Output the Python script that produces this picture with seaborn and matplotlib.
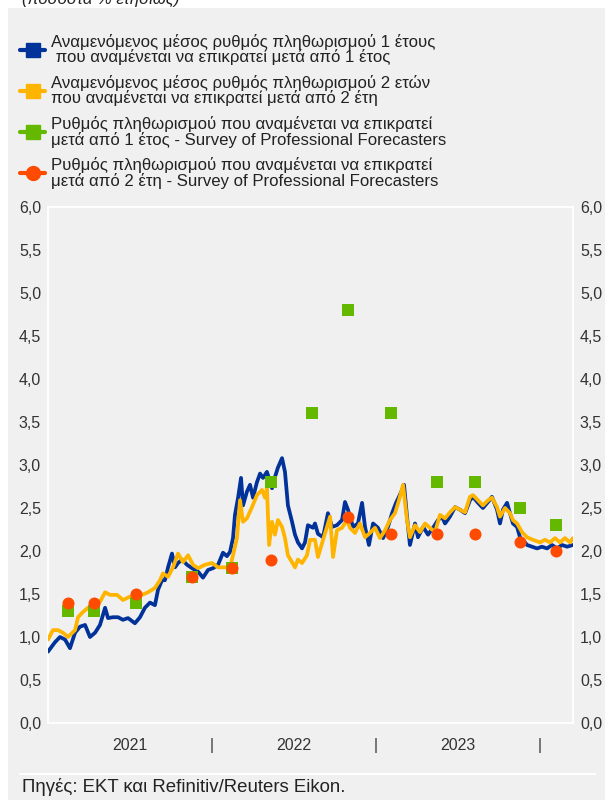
import numpy as np
import pandas as pd
import matplotlib
matplotlib.use("Agg")
import matplotlib.pyplot as plt
from matplotlib.lines import Line2D
from matplotlib.patches import Rectangle
import seaborn as sns

# ---------------- data (decimal years, % p.a.) ----------------
t_blue = [0.000, 0.043, 0.073, 0.104, 0.134, 0.165, 0.195, 0.226, 0.256, 0.287,
          0.317, 0.348, 0.366, 0.396, 0.427, 0.457, 0.488, 0.530, 0.561, 0.591,
          0.622, 0.652, 0.671, 0.695, 0.713, 0.732, 0.756, 0.774, 0.793, 0.817,
          0.848, 0.878, 0.915, 0.945, 0.976, 1.006, 1.037, 1.067, 1.091, 1.110,
          1.128, 1.140, 1.159, 1.177, 1.189, 1.213, 1.232, 1.250, 1.274, 1.293,
          1.311, 1.335, 1.366, 1.384, 1.402, 1.427, 1.445, 1.463, 1.488, 1.506,
          1.524, 1.549, 1.567, 1.585, 1.616, 1.628, 1.646, 1.677, 1.707, 1.732,
          1.762, 1.793, 1.811, 1.829, 1.860, 1.890, 1.915, 1.933, 1.957, 1.982,
          2.012, 2.043, 2.073, 2.098, 2.122, 2.140, 2.159, 2.171, 2.189, 2.207,
          2.238, 2.256, 2.287, 2.317, 2.348, 2.378, 2.402, 2.421, 2.451, 2.482,
          2.512, 2.543, 2.573, 2.591, 2.622, 2.652, 2.683, 2.707, 2.738, 2.756,
          2.774, 2.799, 2.817, 2.835, 2.860, 2.878, 2.896, 2.921, 2.951, 2.982,
          3.012, 3.043, 3.073, 3.104, 3.134, 3.165, 3.201]
v_blue = [0.83, 0.94, 1.00, 0.97, 0.87, 1.05, 1.12, 1.14, 1.00, 1.05,
          1.14, 1.34, 1.22, 1.23, 1.23, 1.20, 1.22, 1.16, 1.23, 1.34,
          1.40, 1.37, 1.55, 1.66, 1.66, 1.81, 1.97, 1.81, 1.86, 1.90,
          1.84, 1.80, 1.76, 1.69, 1.78, 1.80, 1.84, 1.98, 1.94, 1.99,
          2.15, 2.42, 2.62, 2.85, 2.53, 2.69, 2.77, 2.62, 2.80, 2.90,
          2.85, 2.92, 2.73, 2.86, 2.97, 3.08, 2.92, 2.53, 2.34, 2.19,
          2.10, 2.03, 2.10, 2.30, 2.27, 2.32, 2.20, 2.16, 2.44, 2.28,
          2.30, 2.36, 2.57, 2.48, 2.28, 2.32, 2.56, 2.28, 2.07, 2.32,
          2.27, 2.15, 2.28, 2.44, 2.56, 2.63, 2.71, 2.77, 2.40, 2.07,
          2.32, 2.16, 2.28, 2.19, 2.27, 2.36, 2.40, 2.32, 2.40, 2.51,
          2.48, 2.44, 2.59, 2.63, 2.56, 2.50, 2.57, 2.63, 2.48, 2.32,
          2.48, 2.56, 2.44, 2.32, 2.28, 2.16, 2.13, 2.07, 2.05, 2.03,
          2.05, 2.03, 2.07, 2.03, 2.07, 2.05, 2.07]

t_yellow = [0.000, 0.030, 0.061, 0.091, 0.122, 0.165, 0.183, 0.213, 0.244, 0.287,
            0.317, 0.348, 0.378, 0.421, 0.457, 0.500, 0.530, 0.573, 0.610, 0.652,
            0.683, 0.701, 0.732, 0.762, 0.793, 0.823, 0.854, 0.884, 0.915, 0.957,
            1.000, 1.037, 1.079, 1.110, 1.128, 1.152, 1.171, 1.189, 1.213, 1.244,
            1.274, 1.305, 1.323, 1.335, 1.348, 1.366, 1.384, 1.402, 1.427, 1.445,
            1.463, 1.488, 1.506, 1.524, 1.549, 1.579, 1.598, 1.628, 1.646, 1.671,
            1.701, 1.720, 1.738, 1.762, 1.793, 1.823, 1.841, 1.872, 1.902, 1.933,
            1.963, 1.994, 2.024, 2.055, 2.085, 2.116, 2.140, 2.165, 2.189, 2.207,
            2.238, 2.268, 2.299, 2.329, 2.360, 2.390, 2.421, 2.451, 2.482, 2.512,
            2.543, 2.573, 2.591, 2.622, 2.652, 2.683, 2.707, 2.738, 2.756, 2.787,
            2.817, 2.835, 2.860, 2.890, 2.921, 2.957, 3.000, 3.030, 3.061, 3.091,
            3.122, 3.152, 3.183, 3.201]
v_yellow = [0.97, 1.08, 1.08, 1.05, 1.00, 1.08, 1.23, 1.29, 1.34, 1.35,
            1.41, 1.52, 1.49, 1.49, 1.43, 1.47, 1.45, 1.49, 1.52, 1.57,
            1.66, 1.74, 1.70, 1.81, 1.97, 1.87, 1.95, 1.84, 1.80, 1.84,
            1.86, 1.81, 1.81, 1.81, 1.95, 2.15, 2.59, 2.34, 2.38, 2.51,
            2.65, 2.71, 2.62, 2.73, 2.07, 2.34, 2.19, 2.36, 2.28, 2.15,
            1.95, 1.87, 1.81, 1.90, 1.86, 1.95, 2.13, 2.13, 1.93, 2.09,
            2.28, 2.40, 1.93, 2.24, 2.27, 2.36, 2.27, 2.21, 2.32, 2.16,
            2.21, 2.27, 2.15, 2.24, 2.36, 2.44, 2.59, 2.77, 2.36, 2.16,
            2.30, 2.22, 2.32, 2.27, 2.22, 2.42, 2.38, 2.45, 2.51, 2.48,
            2.45, 2.63, 2.65, 2.59, 2.53, 2.59, 2.62, 2.51, 2.40, 2.50,
            2.44, 2.36, 2.32, 2.22, 2.16, 2.13, 2.10, 2.13, 2.10, 2.15,
            2.10, 2.15, 2.10, 2.15]

t_spf1 = [0.122, 0.280, 0.537, 0.878, 1.122, 1.360, 1.610, 1.829, 2.091, 2.372, 2.604, 2.878, 3.098]
v_spf1 = [1.3, 1.3, 1.4, 1.7, 1.8, 2.8, 3.6, 4.8, 3.6, 2.8, 2.8, 2.5, 2.3]

t_spf2 = [0.122, 0.280, 0.537, 0.878, 1.122, 1.360, 1.829, 2.091, 2.372, 2.604, 2.878, 3.098]
v_spf2 = [1.4, 1.4, 1.5, 1.7, 1.8, 1.9, 2.4, 2.2, 2.2, 2.2, 2.1, 2.0]

base_year = 2021
year_labels = ["2021", "2022", "2023"]
y_ticks = [0.0, 0.5, 1.0, 1.5, 2.0, 2.5, 3.0, 3.5, 4.0, 4.5, 5.0, 5.5, 6.0]

labels = [
    "Αναμενόμενος μέσος ρυθμός πληθωρισμού 1 έτους\n που αναμένεται να επικρατεί μετά από 1 έτος",
    "Αναμενόμενος μέσος ρυθμός πληθωρισμού 2 ετών\nπου αναμένεται να επικρατεί μετά από 2 έτη",
    "Ρυθμός πληθωρισμού που αναμένεται να επικρατεί\nμετά από 1 έτος - Survey of Professional Forecasters",
    "Ρυθμός πληθωρισμού που αναμένεται να επικρατεί\nμετά από 2 έτη - Survey of Professional Forecasters",
]
subtitle = "(ποσοστά % ετησίως)"
source = "Πηγές: ΕΚΤ και Refinitiv/Reuters Eikon."

# ---------------- styling ----------------
BLUE = "#003299"
YELLOW = "#FFB400"
GREEN = "#65B800"
ORANGE = "#FF4B00"
BG = "#F0F0F0"
TXT = "#333333"

sns.set_theme(style="white")
plt.rcParams["font.family"] = ["Liberation Sans", "DejaVu Sans"]

df_b = pd.DataFrame({"t": np.array(t_blue) + base_year, "v": v_blue})
df_y = pd.DataFrame({"t": np.array(t_yellow) + base_year, "v": v_yellow})
df_s1 = pd.DataFrame({"t": np.array(t_spf1) + base_year, "v": v_spf1})
df_s2 = pd.DataFrame({"t": np.array(t_spf2) + base_year, "v": v_spf2})

fig = plt.figure(figsize=(6.05, 8.0), dpi=100, facecolor="white")
bg = Rectangle((8 / 605, 0), 1 - 8 / 605, 1 - 8 / 800,
               transform=fig.transFigure, facecolor=BG,
               edgecolor="none", zorder=-10)
fig.add_artist(bg)

ax = fig.add_axes([48 / 605, 1 - 723 / 800, (573 - 48) / 605, (723 - 207) / 800])
ax.set_facecolor(BG)
ax.set_zorder(1)

sns.lineplot(data=df_b, x="t", y="v", ax=ax, color=BLUE, linewidth=2.7, zorder=3)
sns.lineplot(data=df_y, x="t", y="v", ax=ax, color=YELLOW, linewidth=2.7, zorder=4)
sns.scatterplot(data=df_s1, x="t", y="v", ax=ax, color=GREEN, marker="s", s=70,
                linewidth=0, zorder=5)
sns.scatterplot(data=df_s2, x="t", y="v", ax=ax, color=ORANGE, marker="o", s=75,
                linewidth=0, zorder=6)

ax.set_xlim(base_year, base_year + 525 / 164)
ax.set_ylim(0, 6)
ax.set_xlabel("")
ax.set_ylabel("")

xt, xl = [], []
for i, lab in enumerate(year_labels):
    xt += [base_year + i + 0.5, base_year + i + 1]
    xl += [lab, "|"]
ax.set_xticks(xt)
ax.set_xticklabels(xl)
ax.set_yticks(y_ticks)
ax.set_yticklabels([f"{v:.1f}".replace(".", ",") for v in y_ticks])
ax.tick_params(axis="both", length=0, labelsize=11.5, colors=TXT)
ax.tick_params(axis="y", which="both", labelleft=True, labelright=True, pad=5)
ax.tick_params(axis="x", pad=11)

for sp in ax.spines.values():
    sp.set_color("white")
    sp.set_linewidth(1.3)
ax.grid(False)

handles = [
    Line2D([], [], color=BLUE, marker="s", markersize=10, linewidth=3),
    Line2D([], [], color=YELLOW, marker="s", markersize=10, linewidth=3),
    Line2D([], [], color=GREEN, marker="s", markersize=10, linewidth=3),
    Line2D([], [], color=ORANGE, marker="o", markersize=10, linewidth=3),
]
leg = fig.legend(handles, labels, loc="upper left",
                 bbox_to_anchor=(20 / 605, 1 - 34 / 800),
                 frameon=False, fontsize=12.1, handlelength=1.5,
                 handletextpad=0.35, labelspacing=0.58, borderpad=0,
                 borderaxespad=0)
for t in leg.get_texts():
    t.set_color("#222222")
    t.set_linespacing(0.95)

fig.text(22 / 605, 1 + 1 / 800, subtitle, fontsize=12, style="italic",
         color="#222222", ha="left", va="center")

fig.add_artist(Line2D([20 / 605, 595 / 605], [1 - 774 / 800, 1 - 774 / 800],
                      transform=fig.transFigure, color="white", linewidth=1.5))
fig.text(22 / 605, 1 - 787 / 800, source, fontsize=13.4, color="#222222",
         ha="left", va="center")

fig.savefig("out.png", dpi=100, facecolor=fig.get_facecolor())
